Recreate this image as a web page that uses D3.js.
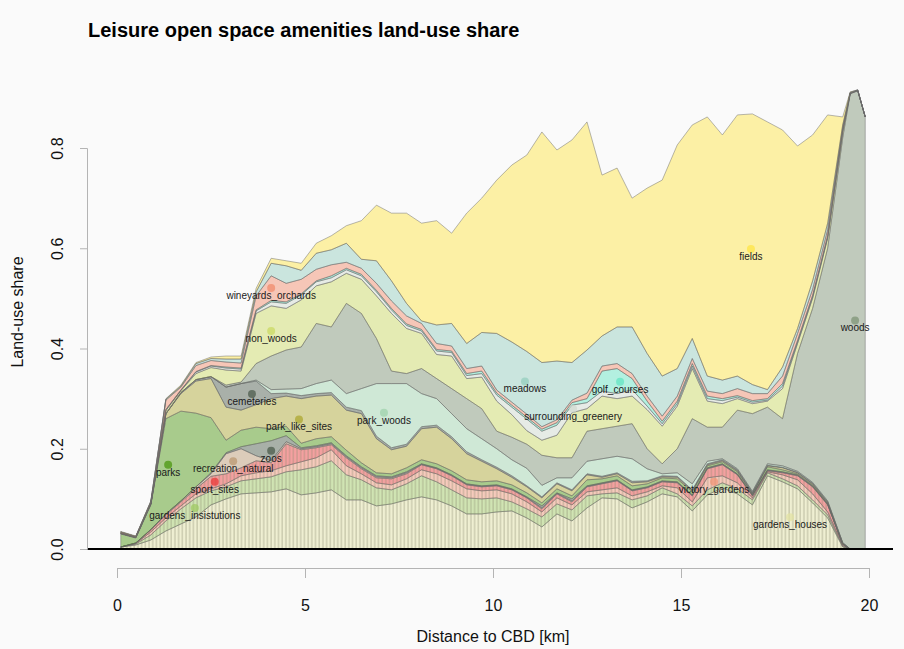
<!DOCTYPE html>
<html>
<head>
<meta charset="utf-8">
<script src="https://cdn.jsdelivr.net/npm/d3@7/dist/d3.min.js"></script>
<style>
  html, body { margin: 0; padding: 0; background: #fafafa; }
  svg { display: block; font-family: "Liberation Sans", Arial, Helvetica, sans-serif; }
</style>
</head>
<body>
<svg id="chart" width="904" height="649"></svg>
<script>
// Distance to the CBD (km) of each sampled ring
const distanceKm = [0.1, 0.5, 0.9, 1.3, 1.7, 2.1, 2.5, 2.9, 3.3, 3.7, 4.1, 4.5, 4.9, 5.3, 5.7, 6.1, 6.5, 6.9, 7.3, 7.7,
  8.1, 8.5, 8.9, 9.3, 9.7, 10.1, 10.5, 10.9, 11.3, 11.7, 12.1, 12.5, 12.9, 13.3, 13.7, 14.1, 14.5, 14.9, 15.3, 15.7,
  16.1, 16.5, 16.9, 17.3, 17.7, 18.1, 18.5, 18.9, 19.3, 19.5, 19.7, 19.9];

// Land-use share of each amenity type (stacked bottom to top)
const gardens_houses = [.004,.008,.018,.036,.050,.064,.088,.100,.110,.112,.114,.120,.108,.112,.118,.098,.098,.086,.090,.098,
  .104,.098,.086,.070,.070,.074,.076,.062,.044,.070,.056,.082,.102,.100,.082,.094,.110,.104,.076,.108,
  .122,.110,.088,.146,.134,.120,.092,.062,.004,0,0,0];
const gardens_insistutions = [0,.002,.010,.020,.030,.038,.028,.024,.026,.028,.030,.034,.050,.052,.058,.050,.040,.036,.028,.032,
  .042,.036,.032,.032,.030,.028,.018,.018,.020,.020,.022,.024,.008,.012,.016,.012,.012,.006,.010,.010,
  .010,.010,.010,.006,.006,.006,.006,.006,.002,0,0,0];
const victory_gardens = [0,.001,.006,.006,.006,.008,.004,.006,.010,.012,.012,.012,.016,.018,.022,.018,.012,.010,.010,.010,
  .012,.016,.018,.018,.016,.016,.016,.014,.010,.012,.010,.008,.008,.010,.008,.008,.004,.012,.008,.024,
  .014,.012,.004,.002,.008,.012,.012,.006,.002,0,0,0];
const sport_sites = [0,.001,.004,.006,.008,.010,.025,.020,.016,.024,.016,.044,.024,.020,.010,.016,.010,.010,.012,.010,
  .010,.010,.010,.008,.008,.008,.008,.008,.006,.008,.006,.010,.012,.014,.010,.008,.008,.010,.012,.018,
  .022,.016,.004,.002,.004,.008,.014,.014,.002,0,0,0];
const recreation_natural = [0,0,.001,.002,.002,.004,.005,.040,.038,.010,.004,.004,.002,.002,.002,.002,.002,.002,.002,.002,
  .001,.001,.001,.001,.001,.001,.001,.001,.002,.001,.002,.001,.001,.001,.001,.001,.001,.001,.001,.001,
  .001,.001,.001,.001,.001,.001,.001,.001,0,0,0,0];
const zoos = [0,0,0,0,0,0,.002,.002,.004,.024,.040,.012,.002,.002,.002,.002,.002,.002,.002,.002,
  .001,.001,.001,.001,.001,.001,.001,.001,.004,.001,.004,.001,.001,.001,.001,.001,.001,.001,.001,.001,
  .001,.001,.001,.001,.001,.001,.001,.001,0,0,0,0];
const parks = [.026,.010,.049,.190,.179,.147,.110,.025,.033,.033,.024,.019,.009,.014,.012,.011,.008,.006,.006,.008,
  .008,.008,.008,.008,.008,.008,.008,.008,.006,.008,.006,.012,.008,.008,.008,.006,.006,.006,.006,.004,
  .004,.004,.002,.006,.004,.002,.002,.001,0,0,0,0];
const park_like_sites = [.001,.001,.002,.010,.035,.064,.078,.066,.040,.045,.060,.060,.089,.085,.083,.080,.098,.068,.048,.043,
  .062,.073,.064,.052,.041,.024,.015,.012,.010,.010,.010,.010,.003,.004,.006,.004,.002,.003,.002,.002,
  .002,.002,.001,.002,.004,.002,.002,.002,.002,0,0,0];
const cemeteries = [0,0,0,0,.002,.003,.004,.040,.053,.047,.010,.006,.006,.005,.005,.006,.006,.005,.004,.004,
  .004,.004,.004,.004,.003,.003,.003,.002,.002,.002,.002,.002,.002,.002,.003,.002,.002,.002,.002,.002,
  .002,.002,.002,.001,.001,.001,.001,.001,0,0,0,0];
const park_woods = [0,0,0,0,0,0,0,0,0,.002,.008,.008,.014,.020,.025,.027,.044,.105,.128,.121,
  .066,.053,.046,.046,.042,.037,.032,.035,.023,.010,.024,.025,.035,.033,.045,.024,.004,.007,.012,.005,
  .002,.002,.002,.003,.003,.002,.002,.002,.001,0,0,0];
const woods = [0,0,0,0,0,0,0,.004,.003,.033,.067,.078,.083,.120,.106,.180,.150,.090,.025,.020,
  .050,.040,.050,.060,.060,.035,.045,.048,.060,.040,.040,.060,.060,.060,.070,.040,.020,.048,.130,.068,
  .063,.117,.155,.113,.094,.235,.347,.504,.807,.908,.914,.862];
const non_woods = [.001,.001,.002,.006,.004,.012,.018,.030,.022,.100,.100,.083,.094,.075,.090,.060,.068,.085,.115,.090,
  .070,.048,.065,.040,.063,.060,.045,.027,.030,.045,.090,.045,.065,.055,.055,.078,.075,.085,.100,.052,
  .047,.023,.020,.012,.060,.020,.020,.020,.012,.001,.001,0];
const surrounding_greenery = [0,0,0,.002,.001,.003,.003,.004,.004,.005,.008,.010,.010,.008,.008,.007,.007,.008,.007,.006,
  .005,.007,.007,.006,.007,.012,.015,.023,.018,.020,.015,.012,.010,.010,.013,.007,.005,.005,.005,.005,
  .006,.003,.003,.002,.005,.003,.003,.002,.002,0,0,0];
const golf_courses = [0,0,0,0,0,.001,.001,.002,.002,.002,.003,.003,.002,.002,.004,.003,.003,.003,.003,.003,
  .003,.003,.003,.004,.005,.004,.004,.004,.004,.005,.005,.008,.040,.050,.022,.010,.005,.005,.005,.005,
  .004,.003,.003,.003,.005,.003,.003,.003,.002,0,0,0];
const wineyards_orchards = [.002,.001,.002,.019,.006,.012,.010,.010,.010,.028,.049,.037,.029,.023,.022,.012,.012,.014,.015,.016,
  .012,.012,.010,.010,.010,.006,.006,.006,.005,.006,.005,.011,.010,.010,.010,.010,.010,.010,.010,.010,
  .010,.014,.014,.010,.015,.014,.012,.012,.006,.001,0,0];
const meadows = [0,0,.001,.002,.002,.004,.004,.006,.008,.008,.025,.035,.018,.032,.030,.038,.018,.045,.040,.025,
  .005,.037,.045,.050,.067,.113,.120,.125,.128,.117,.075,.086,.060,.073,.093,.085,.080,.055,.040,.030,
  .027,.025,.018,.008,.018,.010,.017,.013,.004,.001,.001,0];
const fields = [.001,.001,.001,.001,.002,.002,.003,.006,.006,.007,.010,.010,.014,.020,.028,.035,.077,.111,.135,.180,
  .195,.208,.180,.260,.268,.306,.353,.392,.460,.421,.444,.455,.321,.317,.257,.330,.391,.446,.426,.517,
  .489,.521,.540,.534,.473,.364,.291,.216,.016,.001,0,0];

// Stack order, bottom to top, with the colour used for each amenity
const amenityKeys = ["gardens_houses", "gardens_insistutions", "victory_gardens", "sport_sites", "recreation_natural",
  "zoos", "parks", "park_like_sites", "cemeteries", "park_woods", "woods", "non_woods", "surrounding_greenery",
  "golf_courses", "wineyards_orchards", "meadows", "fields"];
const amenityColors = ["#e2e2a1", "#9dc95e", "#f19172", "#ed3232", "#b8946c",
  "#445644", "#449306", "#aaa42a", "#475747", "#9bd2aa", "#7b9172", "#c9d95e", "#ced9ce",
  "#5ee4c0", "#f18767", "#91cdbc", "#ffe43f"];
// Amenities drawn with vertical hatching
const hatchedKeys = ["gardens_houses", "gardens_insistutions", "victory_gardens", "sport_sites"];

// Label anchor distance (km) for each amenity name
const labelKeys = ["parks", "gardens_insistutions", "sport_sites", "recreation_natural", "zoos", "park_like_sites",
  "cemeteries", "park_woods", "woods", "non_woods", "wineyards_orchards", "meadows", "golf_courses",
  "surrounding_greenery", "fields", "victory_gardens", "gardens_houses"];
const labelKm = [1.36, 2.07, 2.6, 3.09, 4.1, 4.84, 3.59, 7.1, 19.63, 4.1, 4.1, 10.85, 13.38, 12.13, 16.86, 15.88, 17.9];

const xTicks = [0, 5, 10, 15, 20];
const yTicks = [0, 0.2, 0.4, 0.6, 0.8];

const seriesByKey = {
  gardens_houses, gardens_insistutions, victory_gardens, sport_sites, recreation_natural, zoos, parks,
  park_like_sites, cemeteries, park_woods, woods, non_woods, surrounding_greenery, golf_courses,
  wineyards_orchards, meadows, fields
};

const rows = distanceKm.map((d, i) => {
  const r = { x: d };
  amenityKeys.forEach(k => { r[k] = seriesByKey[k][i]; });
  return r;
});

const svg = d3.select("#chart");
const fontFamily = '"Liberation Sans", Arial, Helvetica, sans-serif';

svg.append("rect").attr("width", 904).attr("height", 649).attr("fill", "#fafafa");

const x = d3.scaleLinear().domain([0, 20]).range([117, 869]);
const y = d3.scaleLinear().domain([0, 0.8]).range([549, 148]);

const defs = svg.append("defs");
const hatch = defs.append("pattern")
  .attr("id", "hatch")
  .attr("patternUnits", "userSpaceOnUse")
  .attr("width", 3.7).attr("height", 10);
hatch.append("line")
  .attr("x1", 1).attr("x2", 1).attr("y1", 0).attr("y2", 10)
  .attr("stroke", "#8a8a6e").attr("stroke-width", 0.65).attr("stroke-opacity", 0.85);

const stacked = d3.stack().keys(amenityKeys).order(d3.stackOrderNone).offset(d3.stackOffsetNone)(rows);
const colorOf = d3.scaleOrdinal().domain(amenityKeys).range(amenityColors);

const area = d3.area()
  .x(d => x(d.data.x))
  .y0(d => y(d[0]))
  .y1(d => y(d[1]))
  .curve(d3.curveLinear);

const layers = svg.append("g").attr("class", "layers");
stacked.forEach(s => {
  layers.append("path")
    .attr("d", area(s))
    .attr("fill", colorOf(s.key))
    .attr("fill-opacity", 0.45)
    .attr("stroke", "#6a6a6a")
    .attr("stroke-width", 0.6)
    .attr("stroke-opacity", 0.8)
    .attr("stroke-linejoin", "round");
  if (hatchedKeys.includes(s.key)) {
    layers.append("path")
      .attr("d", area(s))
      .attr("fill", "url(#hatch)")
      .attr("stroke", "none");
  }
});

// Zero reference line
svg.append("line")
  .attr("x1", 87).attr("x2", 893)
  .attr("y1", y(0)).attr("y2", y(0))
  .attr("stroke", "#000").attr("stroke-width", 2);

// Amenity labels: dot at the middle of the band, name just below
function bandAt(series, km) {
  const bis = d3.bisector(d => d.data.x).left;
  const i = bis(series, km);
  if (i <= 0) return [series[0][0], series[0][1]];
  if (i >= series.length) { const l = series[series.length - 1]; return [l[0], l[1]]; }
  const a = series[i - 1], b = series[i];
  const t = (km - a.data.x) / (b.data.x - a.data.x);
  return [a[0] + t * (b[0] - a[0]), a[1] + t * (b[1] - a[1])];
}

const labels = svg.append("g").attr("class", "labels");
labelKeys.forEach((k, i) => {
  const s = stacked.find(d => d.key === k);
  const km = labelKm[i];
  const [lo, hi] = bandAt(s, km);
  const cx = x(km), cy = y((lo + hi) / 2);
  labels.append("circle")
    .attr("cx", cx).attr("cy", cy).attr("r", 4)
    .attr("fill", colorOf(k)).attr("fill-opacity", 0.7);
  labels.append("text")
    .attr("x", cx).attr("y", cy + 11)
    .attr("text-anchor", "middle")
    .attr("font-size", 10)
    .attr("fill", "#1a1a1a")
    .text(k);
});

// X axis
const xAxisG = svg.append("g").attr("transform", "translate(0,568)");
xAxisG.call(d3.axisBottom(x).tickValues(xTicks).tickSize(10).tickPadding(22).tickFormat(d3.format("d")));
xAxisG.select(".domain").attr("stroke", "#b4b4b4");
xAxisG.selectAll(".tick line").attr("stroke", "#b4b4b4");
xAxisG.selectAll(".tick text").attr("font-size", 16).attr("font-family", fontFamily).attr("fill", "#111");

// Y axis with tick labels rotated parallel to the axis
const yAxisG = svg.append("g").attr("transform", "translate(87,0)");
yAxisG.call(d3.axisLeft(y).tickValues(yTicks).tickSize(7).tickFormat(d3.format(".1f")));
yAxisG.select(".domain").attr("stroke", "#b4b4b4");
yAxisG.selectAll(".tick line").attr("stroke", "#b4b4b4");
yAxisG.selectAll(".tick text")
  .attr("font-size", 16).attr("font-family", fontFamily).attr("fill", "#111")
  .attr("text-anchor", "middle")
  .attr("x", 0).attr("y", 0)
  .attr("dy", "0.35em")
  .attr("transform", "translate(-30,0) rotate(-90)");

// Titles
svg.append("text")
  .attr("x", 88).attr("y", 37)
  .attr("font-size", 20).attr("font-weight", "bold").attr("fill", "#000")
  .text("Leisure open space amenities land-use share");

svg.append("text")
  .attr("x", 493).attr("y", 642)
  .attr("text-anchor", "middle").attr("font-size", 16).attr("fill", "#111")
  .text("Distance to CBD [km]");

svg.append("text")
  .attr("transform", "translate(23,312) rotate(-90)")
  .attr("text-anchor", "middle").attr("font-size", 16).attr("fill", "#111")
  .text("Land-use share");
</script>
</body>
</html>
